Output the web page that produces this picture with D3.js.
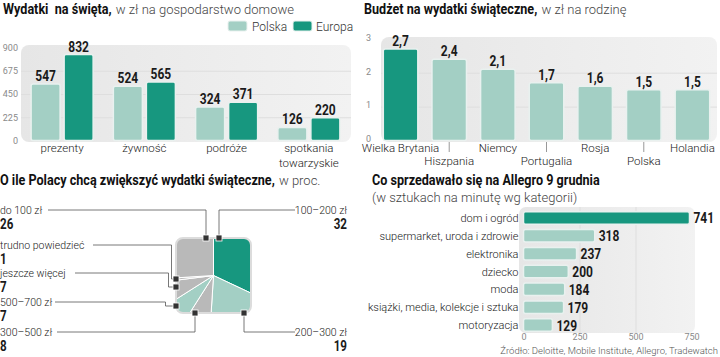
<!DOCTYPE html>
<html><head><meta charset="utf-8">
<script src="https://cdn.jsdelivr.net/npm/d3@7"></script>
<style>
body{margin:0;background:#fff;}
svg{display:block;}
text{white-space:pre;}
.reg{font-family:Roboto,"Open Sans",sans-serif;}
.cond{font-family:Roboto,"Liberation Sans",sans-serif;font-weight:bold;}
</style></head><body>
<svg id="c" width="720" height="357"></svg>
<script>
// ---------- DATA ----------
const spendCategories = ["prezenty","żywność","podróże","spotkania towarzyskie"];
const spendSeries = ["Polska","Europa"];
const spendPolska = [547,524,324,126];
const spendEuropa = [832,565,371,220];
const spendTicks = [0,225,450,675,900];

const budgetCountries = ["Wielka Brytania","Hiszpania","Niemcy","Portugalia","Rosja","Polska","Holandia"];
const budgetValues = [2.7,2.4,2.1,1.7,1.6,1.5,1.5];
const budgetTicks = [0,1,2,3];

const increaseLabels = ["100–200 zł","200–300 zł","300–500 zł","500–700 zł","jeszcze więcej","trudno powiedzieć","do 100 zł"];
const increaseValues = [32,19,8,7,7,1,26];

const allegroCategories = ["dom i ogród","supermarket, uroda i zdrowie","elektronika","dziecko","moda","książki, media, kolekcje i sztuka","motoryzacja"];
const allegroValues = [741,318,237,200,184,179,129];
const allegroTicks = [0,250,500,750];

// ---------- STYLE ----------
const TEAL="#17977f", LIGHT="#a3cfc4", GRAY="#b9b9b9", BARSTROKE="#e9f1ef";
const K=0.8;      // horizontal squeeze for condensed bold numbers
const KT=0.9;     // squeeze for bold titles
const svg = d3.select("#c");
const defs = svg.append("defs");
const grad = defs.append("linearGradient").attr("id","bg").attr("x1",0).attr("x2",1).attr("y1",0).attr("y2",0);
grad.append("stop").attr("offset",0).attr("stop-color","#e6e6e6");
grad.append("stop").attr("offset",1).attr("stop-color","#f2f2f2");

function squeeze(sel,k=K){
  sel.each(function(){const w=this.getComputedTextLength();
    d3.select(this).attr("textLength",w*k).attr("lengthAdjust","spacingAndGlyphs");});
  return sel;
}
function title(x,y,bold,rest,size=14,restSize=13){
  const b = svg.append("text").attr("class","cond").attr("x",x).attr("y",y).attr("font-size",size).attr("fill","#111").text(bold);
  squeeze(b,KT);
  const w = +b.attr("textLength");
  if(rest) svg.append("text").attr("class","reg").attr("x",x+w+1).attr("y",y).attr("font-size",restSize)
    .attr("font-weight",300).attr("fill","#444").text(rest);
}
function styleAxis(g){
  g.select(".domain").remove();
  g.selectAll("text").attr("class","reg").attr("font-size",9).attr("fill","#8a8a8a");
}

// ---------- CHART 1 ----------
title(3,14,"Wydatki  na święta,"," w zł na gospodarstwo domowe");
const lg = svg.append("g");
[[spendSeries[0],LIGHT,228,252],[spendSeries[1],TEAL,293,316]].forEach(([n,c,rx,tx])=>{
  lg.append("rect").attr("x",rx).attr("y",21).attr("width",19).attr("height",10).attr("rx",2).attr("fill",c).attr("stroke",BARSTROKE);
  lg.append("text").attr("class","reg").attr("x",tx).attr("y",30.5).attr("font-size",12).attr("font-weight",300).attr("fill","#333").text(n);
});
const y1 = d3.scaleLinear().domain([0,900]).range([140.5,47.5]);
const x1 = d3.scaleBand().domain(spendCategories).range([21,350]);
const s1 = d3.scaleBand().domain(spendSeries).range([0,x1.bandwidth()]).paddingInner(0.121).paddingOuter(0.306);
svg.append("rect").attr("x",21).attr("y",45).attr("width",330).attr("height",97).attr("rx",8).attr("fill","url(#bg)");
svg.append("g").attr("transform","translate(21,0)")
  .call(d3.axisLeft(y1).tickValues([225,450,675]).tickSize(-330).tickFormat(""))
  .call(g=>{g.select(".domain").remove();g.selectAll("line").attr("stroke","#dedede");});
svg.append("g").attr("transform","translate(18,0)")
  .call(d3.axisLeft(y1).tickValues(spendTicks).tickSize(0).tickPadding(0)).call(styleAxis);
const spendRows = spendCategories.map((c,i)=>({c,vals:[{s:"Polska",v:spendPolska[i]},{s:"Europa",v:spendEuropa[i]}]}));
const grp = svg.selectAll(".g1").data(spendRows).join("g").attr("transform",d=>`translate(${x1(d.c)},0)`);
grp.selectAll("rect").data(d=>d.vals).join("rect")
  .attr("x",d=>s1(d.s)).attr("width",s1.bandwidth())
  .attr("y",d=>y1(d.v)).attr("height",d=>y1(0)-y1(d.v)).attr("rx",2)
  .attr("fill",d=>d.s==="Polska"?LIGHT:TEAL).attr("stroke",BARSTROKE).attr("stroke-width",1.5);
squeeze(grp.selectAll(".v").data(d=>d.vals).join("text").attr("class","cond")
  .attr("x",d=>s1(d.s)+s1.bandwidth()/2).attr("y",d=>y1(d.v)-3).attr("text-anchor","middle")
  .attr("font-size",15).attr("fill","#1a1a1a").text(d=>d.v));
grp.each(function(d){
  const words = d.c==="spotkania towarzyskie"?["spotkania","towarzyskie"]:[d.c];
  words.forEach((w,k)=>d3.select(this).append("text").attr("class","reg")
    .attr("x",x1.bandwidth()/2).attr("y",152+k*15).attr("text-anchor","middle")
    .attr("font-size",11.5).attr("font-weight",300).attr("fill","#222").text(w));
});

// ---------- CHART 2 ----------
title(364,14,"Budżet na wydatki świąteczne,"," w zł na rodzinę");
const y2 = d3.scaleLinear().domain([0,3]).range([140.5,38.8]);
const x2 = d3.scaleBand().domain(budgetCountries).range([376,717]).paddingInner(0.29).paddingOuter(0.15);
svg.append("rect").attr("x",381).attr("y",37).attr("width",336).attr("height",105).attr("rx",8).attr("fill","url(#bg)");
svg.append("g").attr("transform","translate(381,0)")
  .call(d3.axisLeft(y2).tickValues([1,2]).tickSize(-336).tickFormat(""))
  .call(g=>{g.select(".domain").remove();g.selectAll("line").attr("stroke","#dedede");});
svg.append("g").attr("transform","translate(371,-1.5)")
  .call(d3.axisLeft(y2).tickValues(budgetTicks).tickFormat(d3.format("d")).tickSize(0).tickPadding(0)).call(styleAxis);
const b2 = budgetCountries.map((c,i)=>({c,v:budgetValues[i],i}));
svg.selectAll(".b2").data(b2).join("rect")
  .attr("x",d=>x2(d.c)).attr("width",x2.bandwidth()).attr("y",d=>y2(d.v)).attr("height",d=>y2(0)-y2(d.v))
  .attr("rx",2).attr("fill",d=>d.i===0?TEAL:LIGHT).attr("stroke",BARSTROKE).attr("stroke-width",1.5);
squeeze(svg.selectAll(".v2").data(b2).join("text").attr("class","cond")
  .attr("x",d=>x2(d.c)+x2.bandwidth()/2).attr("y",d=>y2(d.v)-3).attr("text-anchor","middle")
  .attr("font-size",15).attr("fill","#1a1a1a").text(d=>d3.format(".1f")(d.v).replace(".",",")));
svg.selectAll(".t2").data(b2.filter(d=>d.i%2===1)).join("line")
  .attr("x1",d=>x2(d.c)+x2.bandwidth()/2).attr("x2",d=>x2(d.c)+x2.bandwidth()/2)
  .attr("y1",142).attr("y2",152).attr("stroke","#999");
svg.selectAll(".l2").data(b2).join("text").attr("class","reg")
  .attr("x",d=>x2(d.c)+x2.bandwidth()/2).attr("y",d=>d.i%2===0?152:164.5).attr("text-anchor","middle")
  .attr("font-size",11.5).attr("font-weight",300).attr("fill","#222").text(d=>d.c);

// ---------- CHART 3 (pie in rounded square) ----------
title(0,185,"O ile Polacy chcą zwiększyć wydatki świąteczne,"," w proc.");
const cx=213.5, cy=275.5, half=37.5;
defs.append("clipPath").attr("id","sq").append("rect")
  .attr("x",-half).attr("y",-half).attr("width",2*half).attr("height",2*half).attr("rx",7);
const pie = d3.pie().sort(null).value(d=>d.v);
const arc = d3.arc().innerRadius(0).outerRadius(70);
const sliceColors = [TEAL,LIGHT,GRAY,LIGHT,GRAY,GRAY,GRAY];
const pdata = pie(increaseLabels.map((l,i)=>({l,v:increaseValues[i],i})));
svg.append("g").attr("clip-path","url(#sq)").attr("transform",`translate(${cx},${cy})`)
  .selectAll("path").data(pdata).join("path").attr("d",arc)
  .attr("fill",d=>sliceColors[d.data.i]).attr("stroke","#fff").attr("stroke-width",1);
svg.append("rect").attr("x",cx-half).attr("y",cy-half).attr("width",2*half).attr("height",2*half).attr("rx",7)
  .attr("fill","none").attr("stroke","#dcdcdc").attr("stroke-width",2);
// callouts: marker point, leader path, label side
const callouts = [
  {i:6, m:[206,238], path:[[206,238],[206,210],[48,210]], side:"L", ly:210},
  {i:0, m:[219,238], path:[[219,238],[219,210],[295,210]], side:"R", ly:210},
  {i:5, m:[176,279], path:[[176,279],[171.5,279],[171.5,245],[93,245]], side:"L", ly:245},
  {i:4, m:[176,287], path:[[176,287],[168.5,287],[168.5,273],[75,273]], side:"L", ly:273},
  {i:3, m:[176,306], path:[[176,306],[165.5,306],[165.5,302],[55,302]], side:"L", ly:302},
  {i:2, m:[195,313], path:[[195,313],[195,332],[57,332]], side:"L", ly:332},
  {i:1, m:[244,313], path:[[244,313],[244,332],[295,332]], side:"R", ly:332}
];
const line = d3.line();
callouts.forEach(c=>{
  svg.append("path").attr("d",line(c.path)).attr("fill","none").attr("stroke","#555").attr("stroke-width",0.8);
  svg.append("rect").attr("x",c.m[0]-3).attr("y",c.m[1]-3).attr("width",6).attr("height",6)
    .attr("fill","#333").attr("stroke","#fff").attr("stroke-width",0.8);
  const x = c.side==="L"?0:347, anchor=c.side==="L"?"start":"end";
  svg.append("text").attr("class","reg").attr("x",x).attr("y",c.ly+4).attr("text-anchor",anchor)
    .attr("font-size",10.5).attr("font-weight",300).attr("fill","#222").text(increaseLabels[c.i]);
  squeeze(svg.append("text").attr("class","cond").attr("x",x).attr("y",c.ly+19).attr("text-anchor",anchor)
    .attr("font-size",14.5).attr("fill","#1a1a1a").text(increaseValues[c.i]));
});

// ---------- CHART 4 ----------
title(372,185,"Co sprzedawało się na Allegro 9 grudnia","");
svg.append("text").attr("class","reg").attr("x",372).attr("y",202).attr("font-size",13).attr("font-weight",300).attr("fill","#444")
  .text("(w sztukach na minutę wg kategorii)");
const x4 = d3.scaleLinear().domain([0,750]).range([523.5,691.5]);
const y4 = d3.scaleBand().domain(allegroCategories).range([209,334]).paddingInner(0.3).paddingOuter(0.15);
svg.append("rect").attr("x",519).attr("y",207).attr("width",176).attr("height",126).attr("rx",7).attr("fill","url(#bg)");
svg.append("g").attr("transform","translate(0,333)")
  .call(d3.axisBottom(x4).tickValues([250,500]).tickSize(-126).tickFormat(""))
  .call(g=>{g.select(".domain").remove();g.selectAll("line").attr("stroke","#dedede");});
svg.append("g").attr("transform","translate(0,333)")
  .call(d3.axisBottom(x4).tickValues(allegroTicks).tickSize(0).tickPadding(1)).call(styleAxis);
const b4 = allegroCategories.map((c,i)=>({c,v:allegroValues[i],i}));
svg.selectAll(".b4").data(b4).join("rect")
  .attr("x",x4(0)).attr("y",d=>y4(d.c)).attr("height",y4.bandwidth()).attr("width",d=>x4(d.v)-x4(0))
  .attr("rx",2).attr("fill",d=>d.i===0?TEAL:LIGHT).attr("stroke",BARSTROKE).attr("stroke-width",1.5);
svg.selectAll(".l4").data(b4).join("text").attr("class","reg")
  .attr("x",518.5).attr("y",d=>y4(d.c)+y4.bandwidth()/2+4).attr("text-anchor","end")
  .attr("font-size",11).attr("font-weight",300).attr("fill","#222").text(d=>d.c);
squeeze(svg.selectAll(".v4").data(b4).join("text").attr("class","cond")
  .attr("x",d=>x4(d.v)+4).attr("y",d=>y4(d.c)+y4.bandwidth()/2+5.5)
  .attr("font-size",15).attr("fill","#1a1a1a").text(d=>d.v));
svg.append("text").attr("class","reg").attr("x",718).attr("y",354).attr("text-anchor","end")
  .attr("font-size",9.5).attr("font-weight",300).attr("fill","#555")
  .text("Źródło: Deloitte, Mobile Institute, Allegro, Tradewatch");
</script>
</body></html>
